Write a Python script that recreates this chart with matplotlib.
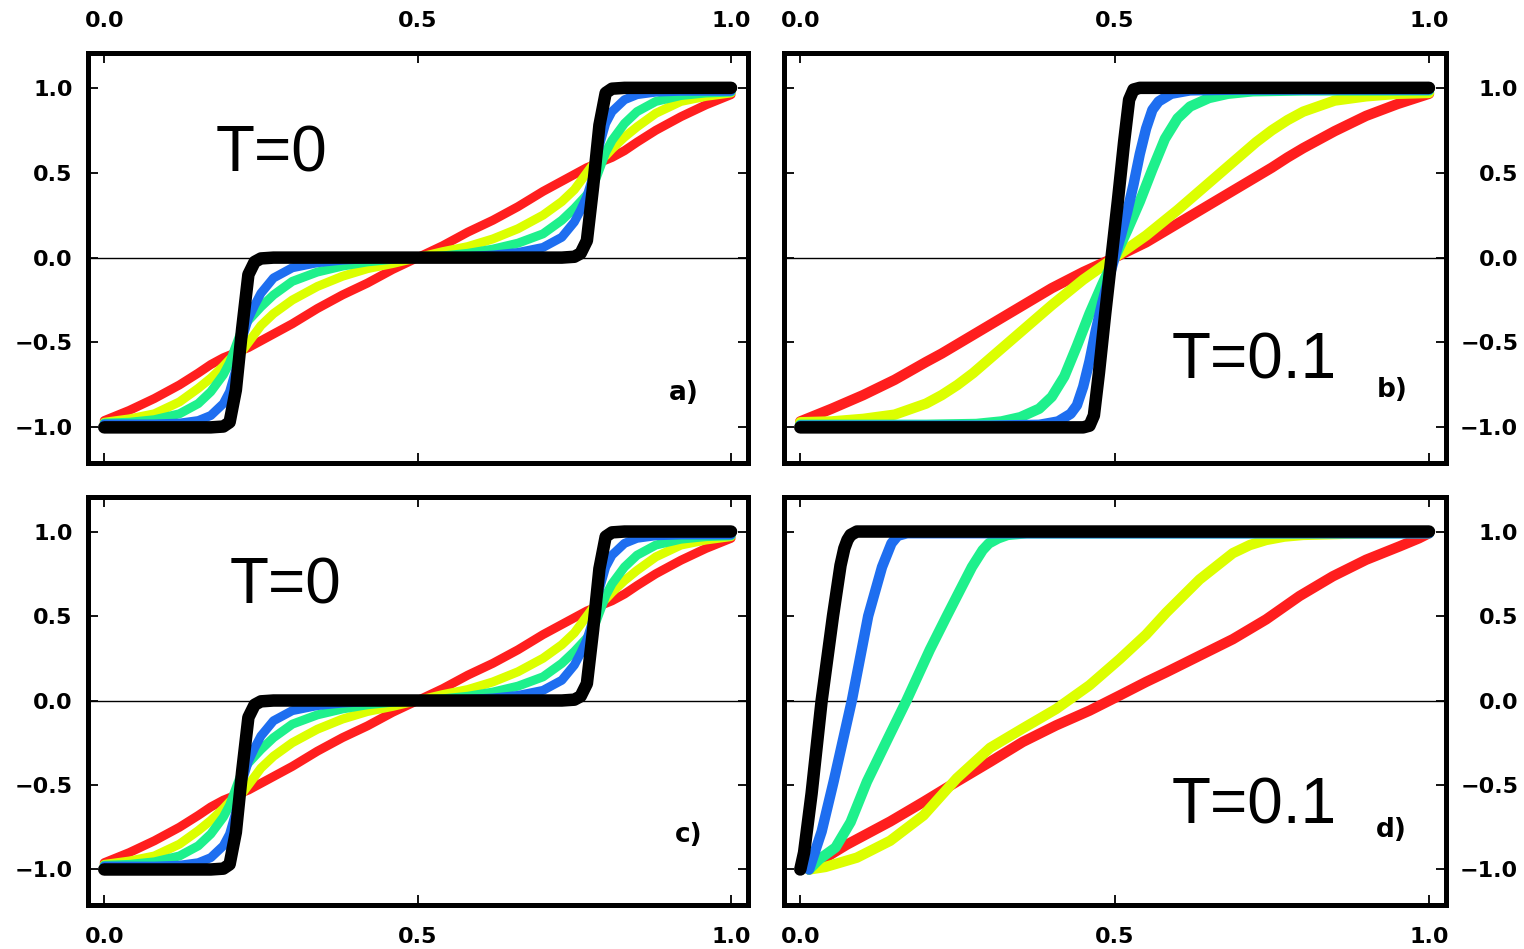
import matplotlib
matplotlib.use("Agg")
import matplotlib.pyplot as plt

plt.rcParams['font.weight'] = 'bold'

# ---- data ----
# panels a) and c), T=0 (two steps)
x_ac = [0, .04, .08, .12, .15, .17, .19, .20, .21, .22, .23, .24, .25, .27, .30, .34, .38, .42, .46, .50,
        .54, .58, .62, .66, .70, .73, .75, .76, .77, .78, .79, .80, .81, .83, .85, .88, .92, .96, 1.0]
red_ac = [-.96, -.90, -.83, -.75, -.68, -.63, -.59, -.575, -.56, -.545, -.53, -.51, -.49, -.45, -.39, -.30, -.22, -.15, -.07, 0,
          .07, .15, .22, .30, .39, .45, .49, .51, .53, .545, .56, .575, .59, .63, .68, .75, .83, .90, .96]
yellow_ac = [-.97, -.95, -.92, -.85, -.77, -.71, -.64, -.60, -.575, -.55, -.50, -.45, -.40, -.33, -.25, -.17, -.11, -.065, -.035, 0,
             .035, .065, .11, .17, .25, .33, .40, .45, .50, .55, .575, .60, .64, .71, .77, .85, .92, .95, .97]
green_ac = [-.975, -.97, -.955, -.92, -.86, -.79, -.69, -.62, -.52, -.42, -.37, -.33, -.29, -.22, -.14, -.085, -.05, -.025, -.01, 0,
            .01, .025, .05, .085, .14, .22, .29, .33, .37, .42, .52, .62, .69, .79, .86, .92, .955, .97, .975]
blue_ac = [-.98, -.98, -.98, -.975, -.96, -.93, -.86, -.79, -.66, -.48, -.36, -.28, -.21, -.12, -.06, -.03, -.015, -.007, -.003, 0,
           .003, .007, .015, .03, .06, .12, .21, .28, .36, .48, .66, .79, .86, .93, .96, .975, .98, .98, .98]
black_ac = [-1, -1, -1, -1, -1, -1, -.995, -.97, -.78, -.42, -.10, -.025, -.005, 0, 0, 0, 0, 0, 0, 0,
            0, 0, 0, 0, 0, 0, .005, .025, .10, .42, .78, .97, .995, 1, 1, 1, 1, 1, 1]

# panel b), T=0.1 (one step in the middle)
x_b_wide = [0, .05, .1, .15, .2, .225, .25, .275, .3, .35, .4, .45, .5, .55, .6, .65, .7, .725, .75, .775, .8, .85, .9, .95, 1]
red_b = [-.965, -.89, -.81, -.72, -.615, -.565, -.51, -.455, -.4, -.29, -.18, -.085, 0,
         .09, .2, .31, .42, .475, .53, .59, .645, .745, .835, .905, .965]
yellow_b = [-.97, -.965, -.95, -.925, -.86, -.81, -.75, -.68, -.6, -.44, -.28, -.13, 0,
            .13, .28, .44, .6, .68, .75, .81, .86, .925, .95, .965, .97]
x_b_green = [0, .2, .28, .32, .35, .38, .40, .42, .44, .46, .48, .5, .52, .54, .56, .58, .60, .62, .65, .68, .72, .8, 1]
green_b = [-.985, -.985, -.98, -.965, -.94, -.89, -.82, -.70, -.52, -.33, -.16, 0, .16, .33, .52, .70, .82, .89, .94, .965, .98, .985, .985]
x_b_blue = [0, .3, .38, .41, .43, .44, .45, .46, .47, .48, .49, .5, .51, .52, .53, .54, .55, .56, .57, .59, .62, .7, 1]
blue_b = [-.99, -.99, -.985, -.965, -.92, -.87, -.76, -.61, -.43, -.27, -.13, 0, .13, .27, .43, .61, .76, .87, .92, .965, .985, .99, .99]
x_b_black = [0, .45, .46, .467, .475, .485, .495, .505, .515, .523, .53, .54, 1]
black_b = [-1, -1, -.99, -.93, -.68, -.33, 0, .33, .68, .93, .99, 1, 1]

# panel d), T=0.1 (step at the left edge)
x_d_red = [.014, .04, .074, .143, .196, .249, .302, .354, .407, .46, .508, .55, .582, .635, .688, .741, .794, .847, .9, .953, .984, 1]
red_d = [-1, -.93, -.853, -.716, -.6, -.48, -.363, -.245, -.147, -.06, .03, .11, .167, .265, .363, .48, .618, .735, .833, .912, .96, .99]
x_d_yellow = [.014, .04, .09, .143, .196, .249, .302, .354, .407, .46, .508, .55, .582, .635, .688, .715, .741, .77, .8, .9, 1]
yellow_d = [-1, -.985, -.93, -.83, -.68, -.46, -.28, -.165, -.05, .09, .245, .39, .52, .716, .872, .92, .95, .97, .98, .99, .995]
x_d_green = [.014, .03, .056, .08, .106, .14, .169, .206, .233, .255, .273, .29, .30, .315, .33, .36, 1]
green_d = [-1, -.94, -.87, -.72, -.48, -.22, 0, .3, .5, .66, .79, .89, .93, .96, .98, .99, .99]
x_d_blue = [.014, .034, .053, .082, .108, .13, .145, .155, .17, 1]
blue_d = [-1, -.775, -.48, 0, .5, .79, .93, .975, .99, .99]
x_d_black = [0, .006, .018, .034, .052, .064, .070, .075, .08, .09, 1]
black_d = [-1, -.9, -.55, 0, .5, .8, .9, .95, .98, 1, 1]

xtick_vals = [0, 0.5, 1.0]
xtick_labels = ['0.0', '0.5', '1.0']
ytick_vals = [-1, -0.5, 0, 0.5, 1]
ytick_labels = ['\u22121.0', '\u22120.5', '0.0', '0.5', '1.0']

colors = ['#ff1e1e', '#dcff00', '#1ef08c', '#1e6ef0', 'black']

fig = plt.figure(figsize=(15.24, 9.49), dpi=100)

# axes boxes in figure fraction: a, b, c, d
ax_a = fig.add_axes([0.0577, 0.5121, 0.4331, 0.432])
ax_b = fig.add_axes([0.5144, 0.5121, 0.4344, 0.432])
ax_c = fig.add_axes([0.0577, 0.0464, 0.4331, 0.430])
ax_d = fig.add_axes([0.5144, 0.0464, 0.4344, 0.430])

curves = {
    ax_a: [(x_ac, red_ac), (x_ac, yellow_ac), (x_ac, green_ac), (x_ac, blue_ac), (x_ac, black_ac)],
    ax_c: [(x_ac, red_ac), (x_ac, yellow_ac), (x_ac, green_ac), (x_ac, blue_ac), (x_ac, black_ac)],
    ax_b: [(x_b_wide, red_b), (x_b_wide, yellow_b), (x_b_green, green_b), (x_b_blue, blue_b), (x_b_black, black_b)],
    ax_d: [(x_d_red, red_d), (x_d_yellow, yellow_d), (x_d_green, green_d), (x_d_blue, blue_d), (x_d_black, black_d)],
}

for ax, lines in curves.items():
    thin = ax in (ax_a, ax_c)
    ax.axhline(0, color='black', lw=1.0, zorder=1)
    for (xs, ys), c in zip(lines, colors):
        if c == 'black':
            lw = 9
        else:
            lw = 6.5 if thin else 7.5
        ax.plot(xs, ys, color=c, lw=lw, solid_capstyle='round', solid_joinstyle='round', zorder=2)
    ax.set_xlim(-0.026, 1.027)
    ax.set_ylim(-1.21, 1.205)
    ax.set_xticks(xtick_vals)
    ax.set_xticklabels(xtick_labels)
    ax.set_yticks(ytick_vals)
    ax.set_yticklabels(ytick_labels)
    for s in ax.spines.values():
        s.set_linewidth(3.6)
    ax.tick_params(direction='in', length=7, width=1.3, top=True, bottom=True, left=True, right=True,
                   labelsize=16)

# which sides carry labels
for ax in (ax_a, ax_b):
    ax.tick_params(axis='x', labeltop=True, labelbottom=False, pad=16)
for ax in (ax_c, ax_d):
    ax.tick_params(axis='x', labeltop=False, labelbottom=True, pad=16)
for ax in (ax_a, ax_c):
    ax.tick_params(axis='y', labelleft=True, labelright=False, pad=11)
for ax in (ax_b, ax_d):
    ax.tick_params(axis='y', labelleft=False, labelright=True, pad=52)
    for t in ax.yaxis.get_major_ticks():
        t.label2.set_horizontalalignment('right')

big = dict(fontsize=46, family='Liberation Sans', fontweight='normal', ha='left', va='center')
ax_a.text(0.178, 0.61, 'T=0', **big)
ax_c.text(0.2, 0.676, 'T=0', **big)
ax_b.text(0.59, -0.61, 'T=0.1', **big)
ax_d.text(0.59, -0.63, 'T=0.1', **big)

small = dict(fontsize=19, fontweight='bold', ha='center', va='center')
ax_a.text(0.924, -0.8, 'a)', **small)
ax_b.text(0.941, -0.78, 'b)', **small)
ax_c.text(0.932, -0.794, 'c)', **small)
ax_d.text(0.94, -0.765, 'd)', **small)

fig.savefig('out.png', dpi=100)
